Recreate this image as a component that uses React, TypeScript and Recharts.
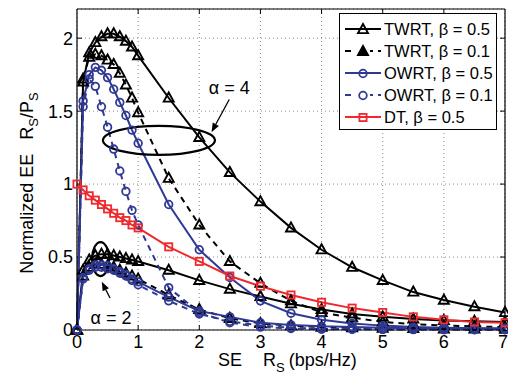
import React from "react";
import {
  LineChart,
  Line,
  XAxis,
  YAxis,
  CartesianGrid,
  ReferenceLine,
  ReferenceDot,
  Legend,
  Label,
} from "recharts";

// SE values on the x axis (dense near the peak, then every 0.5)
const xValues = [0, 0.1, 0.2, 0.3, 0.4, 0.5, 0.6, 0.7, 0.8, 0.9, 1, 1.5, 2, 2.5, 3, 3.5, 4, 4.5, 5, 5.5, 6, 6.5, 7];

// alpha = 4 group
const twrt05a4 = [0, 1.7, 1.9, 1.97, 2.01, 2.03, 2.03, 2.01, 1.98, 1.94, 1.88, 1.59, 1.32, 1.08, 0.88, 0.7, 0.55, 0.43, 0.34, 0.26, 0.205, 0.16, 0.12];
const twrt01a4 = [0, 1.72, 1.87, 1.89, 1.88, 1.85, 1.82, 1.76, 1.68, 1.59, 1.49, 1.04, 0.72, 0.47, 0.32, 0.2, 0.12, 0.085, 0.055, 0.04, 0.03, 0.025, 0.02];
const owrt05a4 = [0, 1.57, 1.75, 1.8, 1.78, 1.73, 1.65, 1.56, 1.47, 1.37, 1.28, 0.86, 0.55, 0.36, 0.2, 0.115, 0.07, 0.045, 0.03, 0.02, 0.015, 0.012, 0.01];
const owrt01a4 = [0, 1.53, 1.72, 1.67, 1.53, 1.39, 1.24, 1.09, 0.95, 0.82, 0.72, 0.29, 0.12, 0.05, 0.02, 0.01, 0.006, 0.005, 0.004, 0.004, 0.003, 0.003, 0.003];

// alpha = 2 group
const twrt05a2 = [0, 0.41, 0.48, 0.51, 0.52, 0.52, 0.51, 0.5, 0.49, 0.48, 0.47, 0.41, 0.34, 0.28, 0.23, 0.18, 0.14, 0.11, 0.09, 0.075, 0.065, 0.06, 0.055];
const twrt01a2 = [0, 0.37, 0.43, 0.45, 0.45, 0.44, 0.43, 0.41, 0.39, 0.37, 0.35, 0.24, 0.14, 0.08, 0.045, 0.03, 0.02, 0.015, 0.012, 0.01, 0.008, 0.007, 0.006];
const owrt05a2 = [0, 0.36, 0.42, 0.445, 0.445, 0.44, 0.42, 0.4, 0.38, 0.35, 0.33, 0.225, 0.13, 0.09, 0.05, 0.035, 0.025, 0.02, 0.015, 0.012, 0.01, 0.01, 0.01];
const owrt01a2 = [0, 0.35, 0.41, 0.43, 0.43, 0.42, 0.41, 0.39, 0.37, 0.34, 0.31, 0.2, 0.11, 0.06, 0.03, 0.015, 0.008, 0.005, 0.004, 0.003, 0.003, 0.002, 0.002];

// direct transmission
const dt05 = [1, 0.96, 0.92, 0.89, 0.86, 0.83, 0.8, 0.77, 0.75, 0.72, 0.7, 0.57, 0.47, 0.37, 0.3, 0.24, 0.19, 0.15, 0.12, 0.09, 0.07, 0.055, 0.05];

const xTicks = [0, 1, 2, 3, 4, 5, 6, 7];
const yTicks = [0, 0.5, 1, 1.5, 2];

const BLACK = "#000000";
const BLUE = "#2f3995";
const RED = "#ee2a2e";
const FONT = "'Liberation Sans', Arial, Helvetica, sans-serif";

const data = xValues.map((x, i) => ({
  x,
  twrt05a4: twrt05a4[i],
  twrt05a2: twrt05a2[i],
  twrt01a4: twrt01a4[i],
  twrt01a2: twrt01a2[i],
  owrt05a4: owrt05a4[i],
  owrt05a2: owrt05a2[i],
  owrt01a4: owrt01a4[i],
  owrt01a2: owrt01a2[i],
  dt05: dt05[i],
}));

type Marker = "tri" | "circle" | "square";

// one entry per legend row
const legendRows = [
  { name: "TWRT, β = 0.5", color: BLACK, dashed: false, marker: "tri" as Marker, keys: ["twrt05a4", "twrt05a2"] },
  { name: "TWRT, β = 0.1", color: BLACK, dashed: true, marker: "tri" as Marker, keys: ["twrt01a4", "twrt01a2"] },
  { name: "OWRT, β = 0.5", color: BLUE, dashed: false, marker: "circle" as Marker, keys: ["owrt05a4", "owrt05a2"] },
  { name: "OWRT, β = 0.1", color: BLUE, dashed: true, marker: "circle" as Marker, keys: ["owrt01a4", "owrt01a2"] },
  { name: "DT, β = 0.5", color: RED, dashed: false, marker: "square" as Marker, keys: ["dt05"] },
];

const MarkerShape = ({ cx, cy, marker, color, filled }: any) => {
  if (cx == null || cy == null) return null;
  if (marker === "tri") {
    return (
      <polygon
        points={`${cx},${cy - 5.5} ${cx - 5},${cy + 3.6} ${cx + 5},${cy + 3.6}`}
        fill={filled ? color : "none"}
        stroke={color}
        strokeWidth={1.9}
      />
    );
  }
  if (marker === "circle") {
    return <circle cx={cx} cy={cy} r={3.8} fill="none" stroke={color} strokeWidth={1.8} />;
  }
  return <rect x={cx - 3.6} y={cy - 3.6} width={7.2} height={7.2} fill="none" stroke={color} strokeWidth={1.8} />;
};

const LegendBox = () => (
  <div
    style={{
      width: 158,
      height: 117,
      border: "1px solid #000",
      background: "#fff",
      boxSizing: "border-box",
      paddingTop: 4,
      fontFamily: FONT,
      fontSize: 16.5,
      color: "#000",
    }}
  >
    {legendRows.map((r) => (
      <div key={r.name} style={{ height: 22, display: "flex", alignItems: "center" }}>
        <svg width={44} height={22} style={{ display: "block" }}>
          <line x1={5} x2={41} y1={11} y2={11} stroke={r.color} strokeWidth={2} strokeDasharray={r.dashed ? "6 5" : undefined} />
          {r.dashed && <rect x={15} y={4} width={15} height={14} fill="#fff" />}
          <MarkerShape cx={23} cy={11.5} marker={r.marker} color={r.color} filled={r.dashed && r.marker === "tri"} />
        </svg>
        <span style={{ whiteSpace: "pre" }}>{r.name}</span>
      </div>
    ))}
  </div>
);

const Arrow = (props: any) => {
  const { x1, y1, x2, y2 } = props;
  if (x1 == null) return null;
  const ang = Math.atan2(y2 - y1, x2 - x1);
  const len = 9;
  const w = 3.5;
  const bx = x2 - len * Math.cos(ang);
  const by = y2 - len * Math.sin(ang);
  const px = -Math.sin(ang) * w;
  const py = Math.cos(ang) * w;
  return (
    <g>
      <line x1={x1} y1={y1} x2={bx} y2={by} stroke="#000" strokeWidth={1.3} />
      <polygon points={`${x2},${y2} ${bx + px},${by + py} ${bx - px},${by - py}`} fill="#000" />
    </g>
  );
};

// x tick label; the last one is kept inside the page edge
const XTick = (props: any) => {
  const { x, y, payload } = props;
  const last = payload.value === xTicks[xTicks.length - 1];
  return (
    <text
      x={last ? x + 3 : x}
      y={y}
      dy="0.71em"
      textAnchor={last ? "end" : "middle"}
      fontFamily={FONT}
      fontSize={18}
      fill="#000"
    >
      {payload.value}
    </text>
  );
};

const YTitle = () => (
  <text transform="translate(33,183) rotate(-90)" textAnchor="middle" fontFamily={FONT} fontSize={18} fill="#000">
    <tspan>Normalized EE</tspan>
    <tspan dx={14}>R</tspan>
    <tspan fontSize={13} dy={5}>S</tspan>
    <tspan dy={-5}>/P</tspan>
    <tspan fontSize={13} dy={5}>S</tspan>
  </text>
);

const XTitle = () => (
  <text x={218} y={366} fontFamily={FONT} fontSize={18} fill="#000">
    <tspan>SE</tspan>
    <tspan dx={21}>R</tspan>
    <tspan fontSize={13} dy={6}>S</tspan>
    <tspan dy={-6} dx={4}>(bps/Hz)</tspan>
  </text>
);

const App: React.FC = () => {
  const tickStyle = { fontFamily: FONT, fontSize: 18, fill: "#000" };
  return (
    <div style={{ position: "absolute", left: 0, top: 0, width: 508, height: 381, background: "#fff" }}>
      <LineChart width={508} height={381} data={data} margin={{ top: 9, right: 3, bottom: 21, left: 37 }}>
        <CartesianGrid stroke="#8a8a8a" strokeDasharray="1 3" strokeWidth={1} />
        <XAxis
          dataKey="x"
          type="number"
          domain={[0, 7]}
          ticks={xTicks}
          tickLine={false}
          tickSize={0}
          tickMargin={5}
          height={30}
          axisLine={{ stroke: "#000", strokeWidth: 1.2 }}
          tick={<XTick />}
          interval={0}
        >
          <Label content={() => <XTitle />} />
        </XAxis>
        <YAxis
          type="number"
          domain={[0, 2.2]}
          ticks={yTicks}
          tickLine={false}
          tickSize={0}
          tickMargin={4}
          width={40}
          axisLine={{ stroke: "#000", strokeWidth: 1.2 }}
          tick={tickStyle}
          interval={0}
        >
          <Label content={() => <YTitle />} />
        </YAxis>

        {/* box on top and right */}
        <ReferenceLine y={2.2} stroke="#000" strokeWidth={1.2} />
        <ReferenceLine x={7} stroke="#000" strokeWidth={1.2} />

        {/* inward tick marks */}
        {xTicks.slice(1, -1).map((t) => (
          <ReferenceLine key={`bt${t}`} segment={[{ x: t, y: 0 }, { x: t, y: 0.034 }]} stroke="#000" />
        ))}
        {xTicks.slice(1, -1).map((t) => (
          <ReferenceLine key={`tt${t}`} segment={[{ x: t, y: 2.2 }, { x: t, y: 2.166 }]} stroke="#000" />
        ))}
        {yTicks.slice(1).map((t) => (
          <ReferenceLine key={`lt${t}`} segment={[{ x: 0, y: t }, { x: 0.082, y: t }]} stroke="#000" />
        ))}
        {yTicks.slice(1).map((t) => (
          <ReferenceLine key={`rt${t}`} segment={[{ x: 7, y: t }, { x: 6.918, y: t }]} stroke="#000" />
        ))}

        {legendRows.map((r) =>
          r.keys.map((k) => (
            <Line
              key={k}
              dataKey={k}
              type="linear"
              stroke={r.color}
              strokeWidth={2}
              strokeDasharray={r.dashed ? "6 5" : undefined}
              isAnimationActive={false}
              legendType="none"
              dot={(p: any) => (
                <MarkerShape key={`${k}-${p.index}`} cx={p.cx} cy={p.cy} marker={r.marker} color={r.color} filled={false} />
              )}
              activeDot={false}
            />
          ))
        )}

        {/* annotations */}
        <ReferenceDot
          x={1.34}
          y={1.3}
          r={0}
          shape={(p: any) => <ellipse cx={p.cx} cy={p.cy} rx={56} ry={14.5} fill="none" stroke="#000" strokeWidth={2.2} />}
        />
        <ReferenceDot
          x={0.385}
          y={0.486}
          r={0}
          shape={(p: any) => <ellipse cx={p.cx} cy={p.cy} rx={8.5} ry={17} fill="none" stroke="#000" strokeWidth={2.2} />}
        />
        <ReferenceLine segment={[{ x: 2.49, y: 1.58 }, { x: 2.2, y: 1.356 }]} shape={(p: any) => <Arrow {...p} />} />
        <ReferenceLine segment={[{ x: 0.54, y: 0.219 }, { x: 0.405, y: 0.331 }]} shape={(p: any) => <Arrow {...p} />} />
        <ReferenceDot
          x={2.49}
          y={1.66}
          r={0}
          shape={(p: any) => (
            <text x={p.cx} y={p.cy + 6} textAnchor="middle" fontFamily={FONT} fontSize={18} fill="#000">
              α = 4
            </text>
          )}
        />
        <ReferenceDot
          x={0.557}
          y={0.079}
          r={0}
          shape={(p: any) => (
            <text x={p.cx} y={p.cy + 6} textAnchor="middle" fontFamily={FONT} fontSize={18} fill="#000">
              α = 2
            </text>
          )}
        />

        <Legend
          layout="vertical"
          align="center"
          verticalAlign="middle"
          wrapperStyle={{ left: 339, top: 13, width: 158 }}
          content={() => <LegendBox />}
        />
      </LineChart>
    </div>
  );
};

export default App;
